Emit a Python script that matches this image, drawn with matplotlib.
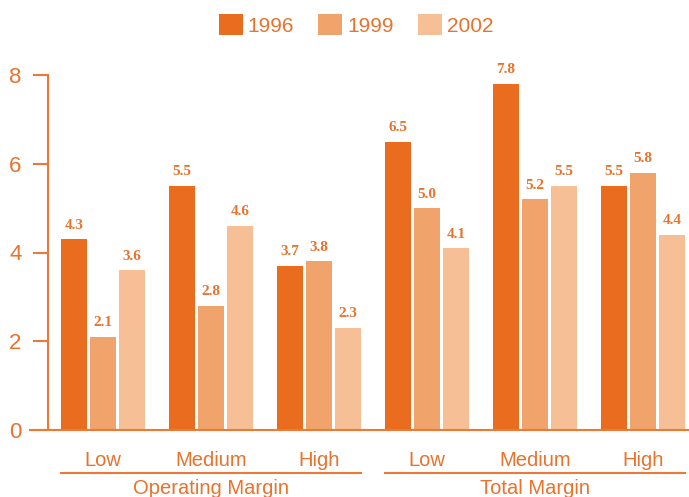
import matplotlib
matplotlib.use("Agg")
import matplotlib.pyplot as plt
import numpy as np
from matplotlib.patches import Patch
from matplotlib.lines import Line2D
from matplotlib.transforms import blended_transform_factory

sections = ["Operating Margin", "Total Margin"]
levels = ["Low", "Medium", "High"]
years = ["1996", "1999", "2002"]
v1996 = [4.3, 5.5, 3.7, 6.5, 7.8, 5.5]
v1999 = [2.1, 2.8, 3.8, 5.0, 5.2, 5.8]
v2002 = [3.6, 4.6, 2.3, 4.1, 5.5, 4.4]
yticks = [0, 2, 4, 6, 8]

colors = ["#E96C1F", "#F1A36C", "#F6BF95"]
txt = "#E9722C"
line_c = "#EC7A36"
sans = ["Liberation Sans Narrow", "Liberation Sans", "DejaVu Sans"]
serif = ["Liberation Serif", "DejaVu Serif"]

W, H = 689, 497
fig = plt.figure(figsize=(W / 100, H / 100), dpi=100)
ax = fig.add_axes([48 / W, 67 / H, 641 / W, 355 / H])

x = np.arange(len(v1996))
step = 29 / 108
bw = 26 / 108
series = [v1996, v1999, v2002]
for i, vals in enumerate(series):
    xs = x + (i - 1) * step
    ax.bar(xs, vals, width=bw, color=colors[i], linewidth=0, label=years[i])
    for xi, v in zip(xs, vals):
        ax.text(xi, v + 0.17, f"{v:.1f}", ha="center", va="bottom",
                fontsize=11, fontweight="bold", color=txt, family=serif,
                clip_on=False)

ax.set_xlim(-0.509, 5.426)
ax.set_ylim(0, 8)
ax.set_yticks(yticks)
ax.set_yticklabels([str(t) for t in yticks], family=sans, fontsize=16, color=txt)
ax.set_xticks([])
for s in ["top", "right", "bottom"]:
    ax.spines[s].set_visible(False)
ax.spines["left"].set_color(line_c)
ax.spines["left"].set_linewidth(1.5)
ax.tick_params(axis="y", colors=line_c, length=11, width=1.5, pad=8, labelcolor=txt)

# bottom baseline
fig.add_artist(Line2D([30 / W, 1.0], [67 / H, 67 / H], color=line_c, lw=1.5))

trans = blended_transform_factory(ax.transData, fig.transFigure)
cats = levels * 2
for xi, c in zip(x, cats):
    ax.text(xi, (H - 460) / H, c, transform=trans, ha="center", va="center",
            fontsize=14.5, color=txt, family=sans, clip_on=False)

for k, name in enumerate(sections):
    g0 = 3 * k
    left = g0 - step - bw / 2
    right = g0 + 2 + step + bw / 2
    ax.add_line(Line2D([left, right], [(H - 473) / H] * 2, transform=trans,
                       color=line_c, lw=1.5, clip_on=False))
    ax.text(g0 + 1, (H - 489) / H, name, transform=trans, ha="center",
            va="center", fontsize=14.5, color=txt, family=sans, clip_on=False)

handles = [Patch(facecolor=colors[i], edgecolor="none", label=years[i]) for i in range(3)]
leg = fig.legend(handles=handles, loc="center", bbox_to_anchor=(356 / W, (H - 25) / H),
                 ncol=3, frameon=False, handlelength=1.15,
                 handleheight=1.15, handletextpad=0.25, columnspacing=1.15,
                 prop={"family": sans, "size": 15})
for t in leg.get_texts():
    t.set_color(txt)

fig.savefig("out.png", dpi=100)
